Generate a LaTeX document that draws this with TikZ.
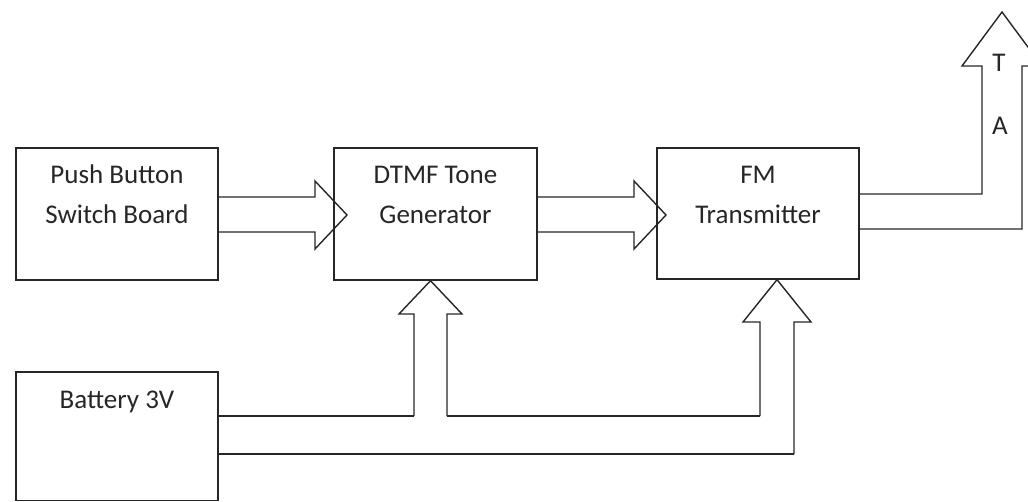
\documentclass[tikz,border=0pt]{standalone}
\usepackage{fontspec}
\setmainfont{Carlito}
\usetikzlibrary{calc}
\definecolor{ink}{HTML}{262626}
\tikzset{
  blk/.style={draw=ink, line width=1.4pt, rectangle, inner sep=0pt},
  lbl/.style={anchor=base, inner sep=0pt, text=ink, font=\fontsize{27}{32}\selectfont},
  fat/.style={draw=ink, line width=1.4pt, line join=miter},
}
\begin{document}
\begin{tikzpicture}[x=1pt, y=-1pt]
\useasboundingbox (0,0) rectangle (1028,502);
\clip (0,0) rectangle (1028,502);

% blocks
\node[blk, minimum width=202pt, minimum height=132pt] (psb) at (117,214) {};
\node[blk, minimum width=203pt, minimum height=132pt] (dtmf) at (435.5,214) {};
\node[blk, minimum width=202pt, minimum height=131pt] (fm) at (758,213.5) {};
\node[blk, minimum width=202pt, minimum height=128.5pt] (bat) at (117,436.25) {};

% block captions
\node[lbl] (psbA) at (117,184) {Push Button};
\node[lbl] (psbB) at (117,224) {Switch Board};
\node[lbl] (dtmfA) at (435.5,184) {DTMF Tone};
\node[lbl] (dtmfB) at (435.5,224) {Generator};
\node[lbl] (fmA) at (758,184) {FM};
\node[lbl] (fmB) at (758,224) {Transmitter};
\node[lbl] (batA) at (117,408) {Battery 3V};

% push button -> DTMF generator
\draw[fat] (psb.east |- 0,197) -- (315,197) -- (315,181) -- (347,215)
  -- (315,249) -- (315,232) -- (psb.east |- 0,232);

% DTMF generator -> FM transmitter
\draw[fat] (dtmf.east |- 0,197) -- (634,197) -- (634,181) -- (666,215)
  -- (634,249) -- (634,232) -- (dtmf.east |- 0,232);

% FM transmitter -> antenna
\draw[fat] (fm.east |- 0,194) -- (982,194) -- (982,66) -- (962,66)
  -- (1002,12) -- (1042,66) -- (1022,66) -- (1022,229) -- (fm.east |- 0,229);
\node[lbl] (antT) at (999,72) {T};
\node[lbl] (antA) at (1000,135) {A};

% battery supply bus
\draw[fat] (bat.east |- 0,416) -- (414,416);
\draw[fat] (447,416) -- (760,416);
\draw[fat] (bat.east |- 0,454) -- (794,454);

% supply -> DTMF generator
\draw[fat] (414,416) -- (414,314) -- (399,314) -- (dtmf.south -| 430.5,0)
  -- (462,314) -- (447,314) -- (447,416);

% supply -> FM transmitter
\draw[fat] (760,416) -- (760,322) -- (743,322) -- (fm.south -| 777,0)
  -- (811,322) -- (794,322) -- (794,454);
\end{tikzpicture}
\end{document}
